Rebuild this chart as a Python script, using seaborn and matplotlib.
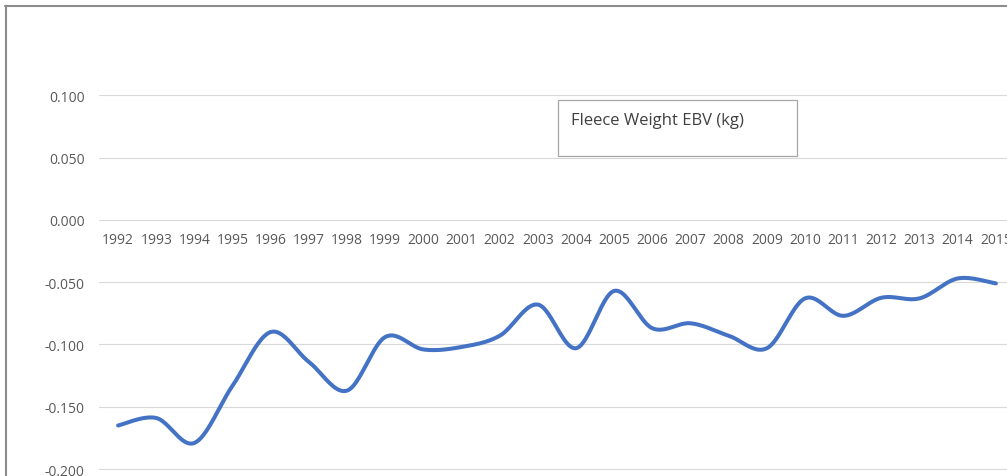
import numpy as np
import pandas as pd
import matplotlib.pyplot as plt
import seaborn as sns
from matplotlib.lines import Line2D
from matplotlib.patches import Rectangle

# Data
years = [str(y) for y in range(1992, 2016)]
fleece_ebv = [-0.165, -0.159, -0.179, -0.133, -0.090, -0.114, -0.137, -0.094,
              -0.104, -0.102, -0.093, -0.068, -0.103, -0.057, -0.087, -0.083,
              -0.093, -0.103, -0.063, -0.077, -0.0625, -0.063, -0.047, -0.051]
y_ticks = [-0.200, -0.150, -0.100, -0.050, 0.000, 0.050, 0.100]
box_title = "Fleece Weight EBV (kg)"


def smooth_line(xs, ys, n=24):
    # Excel style smoothed line (Catmull-Rom as cubic Bezier)
    xs = np.asarray(xs, float)
    ys = np.asarray(ys, float)
    px = np.concatenate([[xs[0]], xs, [xs[-1]]])
    py = np.concatenate([[ys[0]], ys, [ys[-1]]])
    t = np.linspace(0, 1, n, endpoint=False)[:, None]
    pts = []
    for i in range(len(xs) - 1):
        p0 = np.array([px[i], py[i]])
        p1 = np.array([px[i + 1], py[i + 1]])
        p2 = np.array([px[i + 2], py[i + 2]])
        p3 = np.array([px[i + 3], py[i + 3]])
        c1 = p1 + (p2 - p0) / 6
        c2 = p2 - (p3 - p1) / 6
        seg = ((1 - t) ** 3) * p1 + 3 * ((1 - t) ** 2) * t * c1 \
            + 3 * (1 - t) * t ** 2 * c2 + t ** 3 * p2
        pts.append(seg)
    pts.append(np.array([[xs[-1], ys[-1]]]))
    pts = np.vstack(pts)
    return pts[:, 0], pts[:, 1]


sns.set_theme(style="white")
plt.rcParams['font.family'] = ['Open Sans', 'DejaVu Sans']

W, H = 1007, 477
fig = plt.figure(figsize=(W / 100, H / 100), dpi=100)

# axes placed in pixel terms; the chart is cropped at the right and bottom
ax_left, ax_right = 99, 1015
y_top_px, y_bot_px = 96, 470 + 62.4
ax = fig.add_axes([ax_left / W, (H - y_bot_px) / H,
                   (ax_right - ax_left) / W, (y_bot_px - y_top_px) / H])

pos = np.arange(len(years))
sx, sy = smooth_line(pos, fleece_ebv)
df = pd.DataFrame({"x": sx, "ebv": sy})
sns.lineplot(data=df, x="x", y="ebv", ax=ax, sort=False,
             color="#4472C4", linewidth=2.9, solid_capstyle="round")

ax.set_xlim(-0.5, len(years) - 0.5)
ax.set_ylim(-0.25, 0.1002)
ax.set_yticks(y_ticks)
ax.set_yticklabels([f"{v:.3f}" for v in y_ticks])
ax.set_xticks(pos)
ax.set_xticklabels(years)
ax.grid(axis="y", color="#d9d9d9", linewidth=0.8)
ax.grid(axis="x", visible=False)
for s in ax.spines.values():
    s.set_visible(False)
ax.spines["bottom"].set_position(("data", 0))
ax.tick_params(axis="y", length=0, pad=10.5, labelsize=10, labelcolor="#595959")
ax.tick_params(axis="x", length=0, pad=8.5, labelsize=10, labelcolor="#595959")
ax.set_xlabel("")
ax.set_ylabel("")
ax.set_facecolor("none")

# title box
fig.patches.append(Rectangle((558 / W, (H - 157) / H), (797 - 558) / W, 56 / H,
                             transform=fig.transFigure, facecolor="white",
                             edgecolor="#a6a6a6", linewidth=0.9))
fig.text(571 / W, (H - 121) / H, box_title, ha="left", va="center",
         fontsize=12, color="#404040")

# outer frame of the screenshot
fig.lines.append(Line2D([5 / W, 1], [(H - 7) / H] * 2, transform=fig.transFigure,
                        color="#8c8c8c", linewidth=1.5))
fig.lines.append(Line2D([5.5 / W] * 2, [0, (H - 7) / H], transform=fig.transFigure,
                        color="#8c8c8c", linewidth=1.5))

fig.savefig("out.png", dpi=100)
